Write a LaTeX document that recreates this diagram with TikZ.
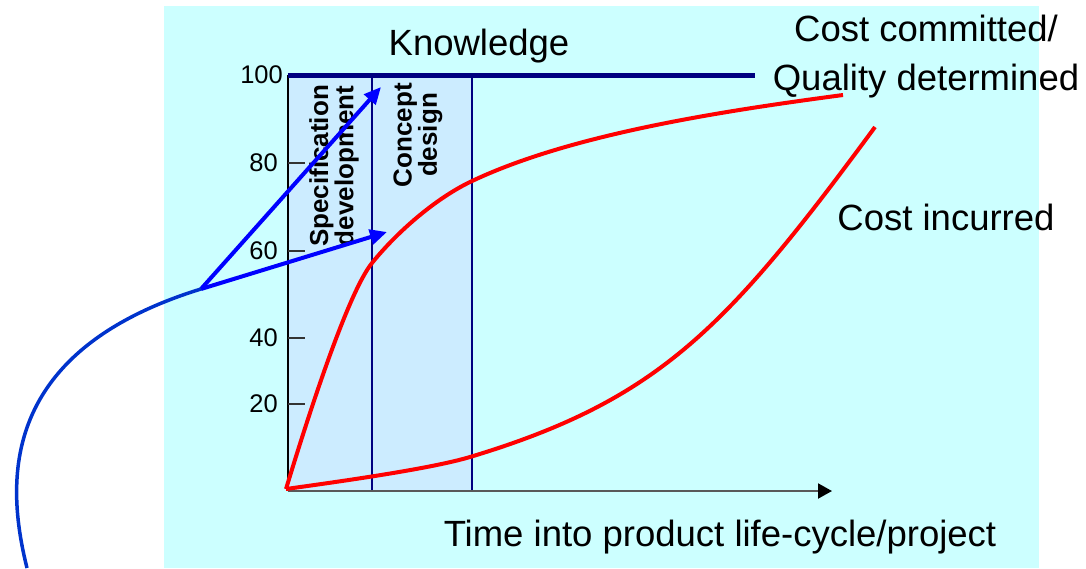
\documentclass[tikz,border=0pt]{standalone}
\usepackage{fontspec}
\setmainfont{Liberation Sans}
\usetikzlibrary{arrows.meta,positioning,calc}
\definecolor{bgcyan}{HTML}{CCFFFF}
\definecolor{phaseblue}{HTML}{CCECFF}
\definecolor{navy}{HTML}{000080}
\definecolor{curveblue}{HTML}{0033CC}
\tikzstyle{bigtext}=[inner sep=0pt,anchor=base,font=\fontsize{36.5}{43}\selectfont]
\tikzstyle{ticktext}=[inner sep=0pt,anchor=east,font=\fontsize{25.5}{30}\selectfont]
\tikzstyle{phasetext}=[inner sep=0pt,rotate=90,align=center,font=\bfseries\fontsize{26}{22}\selectfont]
\tikzstyle{knowarrow}=[draw=blue,line width=4pt,-{Triangle[length=17pt,width=15pt]}]
\tikzstyle{costcurve}=[draw=red,line width=4pt,line join=round]
\tikzstyle{phaseline}=[draw=navy,line width=2pt]

\begin{document}
\begin{tikzpicture}[x=1pt,y=1pt]
    \useasboundingbox (0,0) rectangle (1086,-568);
    \fill[bgcyan] (164,-6) rectangle (1039,-568);
    \fill[phaseblue] (288,-75) rectangle (472,-490);

    % axes
    \coordinate (O) at (288,-491);
    \coordinate (ytop) at (288,-75);
    \coordinate (xend) at (832,-491);
    \draw[black,line width=1.2pt] (O) -- (ytop);
    \draw[black!65,line width=2pt,-{Triangle[length=14pt,width=15pt,color=black]}] (O) -- (xend);
    \foreach \v/\y in {20/404,40/338,60/251,80/163} {
      \draw[black!80,line width=1.2pt] (288,-\y) -- (305,-\y);
      \node [ticktext] (tick\v) at (278,-\y) {\v};
    }
    \node [ticktext] (tick100) at (283,-75) {100};

    % phases
    \draw[phaseline] (372,-75) -- (372,-490);
    \draw[phaseline] (472,-75) -- (472,-490);
    \draw[navy,line width=5pt] (ytop) -- (755,-75);
    \node [phasetext] (spec) at (334,-166) {Specification\\development};
    \node [phasetext] (concept) at (418,-135) {Concept\\design};

    % cost curves
    \draw[costcurve] (286,-489) .. controls (306,-423) and (347,-294) .. (372,-263)
      .. controls (397,-232) and (435,-199) .. (470,-182)
      .. controls (570,-134) and (723,-111) .. (843,-95);
    \draw[costcurve] (286,-489) .. controls (336,-482) and (430,-469) .. (470,-457)
      .. controls (659,-400) and (727,-328) .. (875,-127);

    % knowledge
    \coordinate (src) at (201,-289);
    \coordinate (k1) at (381,-87);
    \coordinate (k2) at (387,-232);
    \coordinate (tail) at (27,-568);
    \draw[knowarrow] (src) -- (k1);
    \draw[knowarrow] (src) -- (k2);
    \draw[curveblue,line width=3.5pt] (src) .. controls (0,-351) and (5,-480) .. (tail);

    % texts
    \node [bigtext] (know) at (479,-55) {Knowledge};
    \node [bigtext] (committed) at (926,-41) {Cost committed/};
    \node [bigtext] (quality) at (926,-90) {Quality determined};
    \node [bigtext] (incurred) at (946,-230) {Cost incurred};
    \node [bigtext] (time) at (720,-546) {Time into product life-cycle/project};
\end{tikzpicture}
\end{document}
